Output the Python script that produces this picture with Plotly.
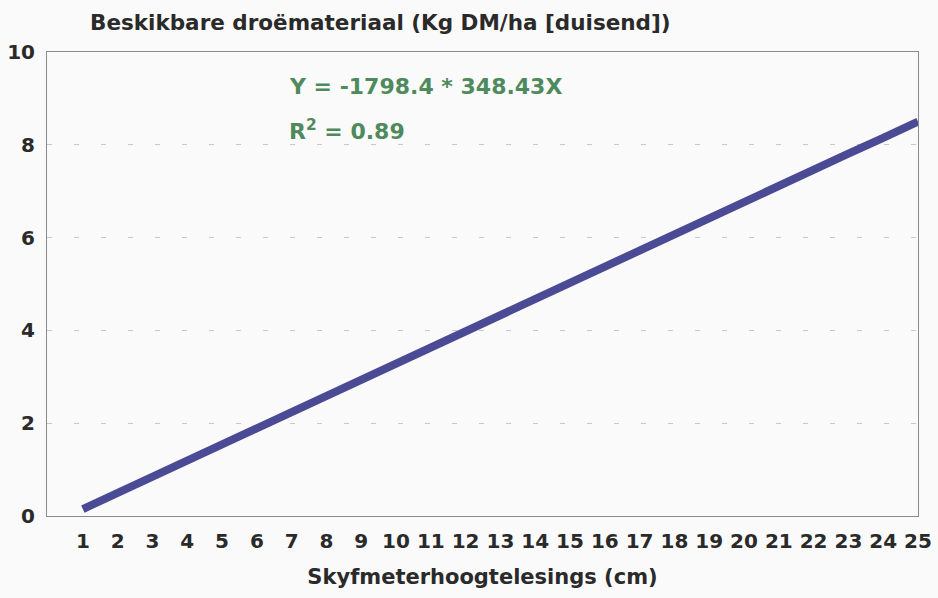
import plotly.graph_objects as go

# skyfmeter readings (cm) and dry matter (kg DM/ha, thousands)
skyfmeter = list(range(1, 26))
droemateriaal = [0.15, 0.50, 0.85, 1.19, 1.54, 1.89, 2.24, 2.59, 2.93, 3.28,
                 3.63, 3.98, 4.33, 4.67, 5.02, 5.37, 5.72, 6.07, 6.41, 6.76,
                 7.11, 7.46, 7.81, 8.15, 8.50]
y_ticks = [0, 2, 4, 6, 8, 10]

font_family = "DejaVu Sans, Verdana, sans-serif"
ink = "#2a2a2a"
green = "#4f8a5c"

fig = go.Figure()
fig.add_trace(go.Scatter(
    x=skyfmeter, y=droemateriaal, mode="lines",
    line=dict(color="#4b4a94", width=8), showlegend=False,
))

fig.update_layout(
    width=938, height=598,
    margin=dict(l=47, r=20, t=52, b=82),
    paper_bgcolor="#fafafa", plot_bgcolor="#fafafa",
    font=dict(family=font_family, color=ink),
    annotations=[
        dict(text="<b>Beskikbare droëmateriaal (Kg DM/ha [duisend])</b>",
             xref="paper", yref="paper", x=0.047, y=1.0, yshift=30,
             xanchor="left", yanchor="middle", showarrow=False,
             font=dict(size=21.5, color=ink)),
        dict(text="<b>Y = -1798.4 * 348.43X</b>",
             xref="paper", yref="paper", x=0.2755, y=0.925,
             xanchor="left", yanchor="middle", showarrow=False,
             font=dict(size=22, color=green)),
        dict(text="<b>R<sup>2</sup> = 0.89</b>",
             xref="paper", yref="paper", x=0.2755, y=0.832,
             xanchor="left", yanchor="middle", showarrow=False,
             font=dict(size=22, color=green)),
    ],
)

fig.update_xaxes(
    range=[-0.03, 25], tickvals=skyfmeter, automargin=False,
    tickfont=dict(size=20, weight="bold", color=ink),
    ticks="", ticklabelstandoff=7,
    showgrid=False, zeroline=False,
    showline=True, linecolor="#8a8a8a", linewidth=1, mirror=True,
    title=dict(text="<b>Skyfmeterhoogtelesings (cm)</b>",
               font=dict(size=21, color=ink), standoff=17),
)
fig.update_yaxes(
    range=[0, 10], tickvals=y_ticks, automargin=False,
    tickfont=dict(size=20, weight="bold", color=ink),
    ticks="", ticklabelstandoff=7,
    showgrid=True, gridcolor="#c8c8c8", griddash="5px,22px", gridwidth=1,
    zeroline=False,
    showline=True, linecolor="#8a8a8a", linewidth=1, mirror=True,
)

# drop the page's default body margin so the figure fills the window exactly
fig.write_html("out.html", config={"displayModeBar": False},
               post_script="document.body.style.margin='0';")
